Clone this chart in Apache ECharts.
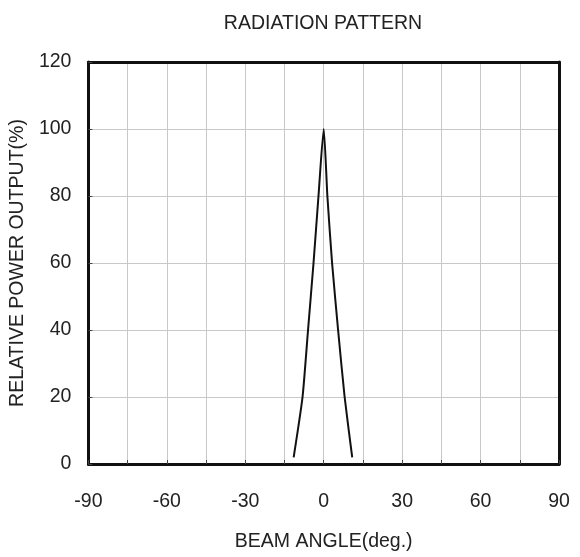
<!DOCTYPE html>
<html><head><meta charset="utf-8">
<script src="https://cdn.jsdelivr.net/npm/echarts@6/dist/echarts.min.js"></script>
<style>html,body{margin:0;padding:0;background:#fff}#c{width:580px;height:557px}</style>
</head><body><div id="c"></div>
<script>
var angles = [-11.5, -8.1, -6, -3.9, -2, 0, 1.4, 3.2, 5.5, 8, 10.9];
var power  = [2, 20, 40, 60, 80, 100, 80, 60, 40, 20, 2];
var xTicks = [-90, -60, -30, 0, 30, 60, 90];
var yTicks = [0, 20, 40, 60, 80, 100, 120];
var pts = angles.map(function(a, i){ return [a, power[i]]; });
var chart = echarts.init(document.getElementById('c'));
var font = 'Liberation Sans, Arial, sans-serif';
var fs = 19.5;
var frame = { show: true, onZero: false, lineStyle: { color: '#111', width: 3 } };
chart.setOption({
  animation: false,
  title: { text: 'RADIATION PATTERN', left: 318, top: 9, textAlign: 'center',
    textStyle: { fontFamily: font, fontSize: fs, fontWeight: 'normal', color: '#222' } },
  grid: { left: 87, right: 21, top: 62, bottom: 92 },
  xAxis: [{
    type: 'value', min: -90, max: 90, interval: 15,
    name: 'BEAM ANGLE(deg.)', nameLocation: 'middle', nameGap: 68,
    nameTextStyle: { fontFamily: font, fontSize: fs, color: '#222' },
    axisLine: frame,
    axisTick: { show: true, inside: true, length: 4, lineStyle: { color: '#444' } },
    axisLabel: { margin: 28, fontFamily: font, fontSize: fs, color: '#222',
      formatter: function(v){ return xTicks.indexOf(v) >= 0 ? String(v) : ''; } },
    splitLine: { show: true, lineStyle: { color: '#c8c8c8', width: 1 } }
  }, {
    type: 'value', min: -90, max: 90, interval: 15, position: 'top',
    axisLine: frame, axisTick: { show: false }, axisLabel: { show: false }, splitLine: { show: false }
  }],
  yAxis: [{
    type: 'value', min: 0, max: 120, interval: 20,
    name: 'RELATIVE POWER OUTPUT(%)', nameLocation: 'middle', nameGap: 53,
    nameTextStyle: { fontFamily: font, fontSize: fs, color: '#222' },
    axisLine: frame,
    axisTick: { show: true, inside: true, length: 4, lineStyle: { color: '#444' } },
    axisLabel: { margin: 17, fontFamily: font, fontSize: fs, color: '#222',
      formatter: function(v){ return yTicks.indexOf(v) >= 0 ? String(v) : ''; } },
    splitLine: { show: true, lineStyle: { color: '#c8c8c8', width: 1 } }
  }, {
    type: 'value', min: 0, max: 120, interval: 20, position: 'right',
    axisLine: frame, axisTick: { show: false }, axisLabel: { show: false }, splitLine: { show: false }
  }],
  series: [{
    type: 'line', data: pts, showSymbol: false, smooth: 0.2,
    lineStyle: { color: '#111', width: 2 }
  }]
});
</script></body></html>
